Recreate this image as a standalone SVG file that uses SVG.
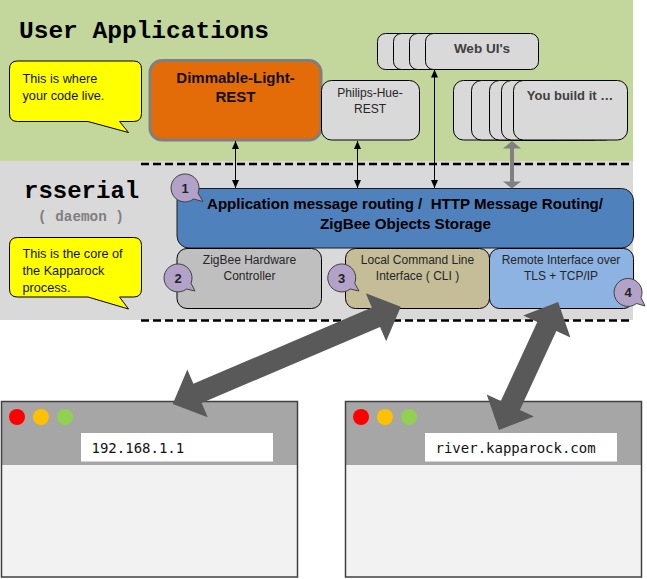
<svg xmlns="http://www.w3.org/2000/svg" width="647" height="579" viewBox="0 0 647 579">
<defs>
<marker id="ah" markerUnits="userSpaceOnUse" markerWidth="8" markerHeight="7" refX="8" refY="3.5" orient="auto-start-reverse"><path d="M0,0 L8,3.5 L0,7 Z" fill="#000"/></marker>
</defs>
<style>
.sans{font-family:"Liberation Sans",Arial,sans-serif}
.mono{font-family:"Liberation Mono","DejaVu Sans Mono",monospace}
.call{fill:#FFFF00;stroke:#000;stroke-width:1}
.calltxt{font-family:"Liberation Sans",Arial,sans-serif;font-size:12.7px;fill:#111}
.stack{fill:#D9D9D9;stroke:#000;stroke-width:1}
.lbl{font-family:"Liberation Sans",Arial,sans-serif;font-size:12px;fill:#262626;text-anchor:middle}
.bub{fill:#B3A2C7;stroke:#404040;stroke-width:1}
.num{font-family:"Liberation Sans",Arial,sans-serif;font-size:13px;font-weight:bold;fill:#222;text-anchor:middle}
.dash{stroke:#000;stroke-width:2.5;stroke-dasharray:8,4;fill:none}
.thin{stroke:#000;stroke-width:1;fill:none}
.big{fill:#595959}
.bar{fill:#A6A6A6}
.body{fill:#F2F2F2}
.frame{fill:none;stroke:#404040;stroke-width:1.5}
.url{font-family:"DejaVu Sans Mono","Liberation Mono",monospace;font-size:14px;fill:#111}
</style>

<g id="backgrounds">
<rect x="0" y="0" width="633" height="161" fill="#C3D69B"/>
<rect x="0" y="161" width="633" height="159" fill="#D9D9D9"/>
<line class="dash" x1="141" y1="164" x2="633" y2="164"/>
<line class="dash" x1="141" y1="320.5" x2="633" y2="320.5"/>
</g>

<g id="title-user-apps">
<text class="mono" x="19" y="38" font-size="24.5" font-weight="bold" fill="#000">User Applications</text>
</g>
<g id="title-rsserial">
<text class="mono" x="24" y="198" font-size="24" font-weight="bold" fill="#000">rsserial</text>
<text class="mono" x="81" y="221" font-size="14.3" font-weight="bold" fill="#7F7F7F" text-anchor="middle">( daemon )</text>
</g>

<g id="callout-code">
<path class="call" d="M17.5,61 H133.5 Q141.5,61 141.5,69 V113.5 Q141.5,121.5 133.5,121.5 H119.5 L128.5,132.5 L88,121.5 H17.5 Q9.5,121.5 9.5,113.5 V69 Q9.5,61 17.5,61 Z"/>
<text class="calltxt" x="22.5" y="83">This is where</text>
<text class="calltxt" x="22.5" y="100">your code live.</text>
</g>
<g id="callout-core">
<path class="call" d="M17.5,237.5 H133.5 Q141.5,237.5 141.5,245.5 V289 Q141.5,297 133.5,297 H119.5 L128.5,309 L88,297 H17.5 Q9.5,297 9.5,289 V245.5 Q9.5,237.5 17.5,237.5 Z"/>
<text class="calltxt" x="22.5" y="258">This is the core of</text>
<text class="calltxt" x="22.5" y="275">the Kapparock</text>
<text class="calltxt" x="22.5" y="292">process.</text>
</g>

<g id="dimmable-light-rest">
<rect x="150" y="60.5" width="171" height="79.5" rx="12" fill="#E36C09" stroke="#7F7F7F" stroke-width="3"/>
<text class="sans" x="235.5" y="82.5" font-size="15" font-weight="bold" fill="#111" text-anchor="middle">Dimmable-Light-</text>
<text class="sans" x="235.5" y="101.5" font-size="15" font-weight="bold" fill="#111" text-anchor="middle">REST</text>
</g>

<g id="philips-hue-rest">
<rect class="stack" x="321.5" y="80.5" width="98" height="59.5" rx="10"/>
<text class="lbl" x="370" y="97">Philips-Hue-</text>
<text class="lbl" x="370" y="113">REST</text>
</g>

<g id="web-uis">
<rect class="stack" x="377.5" y="33.5" width="113" height="36" rx="8"/>
<rect class="stack" x="393.5" y="33.5" width="113" height="36" rx="8"/>
<rect class="stack" x="409.5" y="33.5" width="113" height="36" rx="8"/>
<rect class="stack" x="425.5" y="33.5" width="113" height="36" rx="8"/>
<text class="sans" x="482" y="53" font-size="13.5" font-weight="bold" fill="#404040" text-anchor="middle">Web UI's</text>
</g>

<g id="you-build-it">
<rect class="stack" x="453.5" y="80.5" width="114" height="59.5" rx="10"/>
<rect class="stack" x="471.5" y="80.5" width="114" height="59.5" rx="10"/>
<rect class="stack" x="489.5" y="80.5" width="114" height="59.5" rx="10"/>
<rect class="stack" x="501.5" y="80.5" width="114" height="59.5" rx="10"/>
<rect class="stack" x="513.5" y="80.5" width="114" height="59.5" rx="10"/>
<text class="sans" x="570" y="99.5" font-size="13" font-weight="bold" fill="#404040" text-anchor="middle">You build it …</text>
</g>

<g id="message-routing">
<rect x="177" y="188.5" width="456.5" height="59.5" rx="12" fill="#4F81BD" stroke="#1a1a1a" stroke-width="1"/>
<text class="sans" x="405" y="208.5" font-size="15" font-weight="bold" fill="#000" text-anchor="middle" textLength="396" lengthAdjust="spacingAndGlyphs">Application message routing /&#160; HTTP Message Routing/</text>
<text class="sans" x="405.5" y="228.5" font-size="15" font-weight="bold" fill="#000" text-anchor="middle" textLength="171" lengthAdjust="spacingAndGlyphs">ZigBee Objects Storage</text>
</g>

<g id="zigbee-hw">
<rect x="177" y="248.5" width="144.5" height="60" rx="10" fill="#BFBFBF" stroke="#000" stroke-width="1"/>
<text class="lbl" x="249.5" y="264">ZigBee Hardware</text>
<text class="lbl" x="249.5" y="280">Controller</text>
</g>

<g id="local-cli">
<rect x="345.5" y="248.5" width="144" height="60" rx="10" fill="#C4BD97" stroke="#000" stroke-width="1"/>
<text class="lbl" x="417.5" y="264">Local Command Line</text>
<text class="lbl" x="417.5" y="280">Interface ( CLI )</text>
</g>

<g id="remote-interface">
<rect x="489.5" y="248.5" width="144" height="60" rx="10" fill="#8DB3E2" stroke="#000" stroke-width="1"/>
<text class="lbl" x="561" y="264">Remote Interface over</text>
<text class="lbl" x="561" y="280">TLS + TCP/IP</text>
</g>

<g id="bubble-1">
<path class="bub" d="M198,193.2 L203,201.5 L193.6,199 A14,14 0 1 1 198,193.2 Z"/>
<text class="num" x="185" y="192.5">1</text>
</g>
<g id="bubble-2">
<path class="bub" d="M191,283.2 L195,291 L186.6,289 A14,14 0 1 1 191,283.2 Z"/>
<text class="num" x="178" y="282.5">2</text>
</g>
<g id="bubble-3">
<path class="bub" d="M354.7,283.2 L359,291 L350.3,289 A14,14 0 1 1 354.7,283.2 Z"/>
<text class="num" x="341.7" y="282.5">3</text>
</g>
<g id="bubble-4">
<path class="bub" d="M641,297.7 L645,306 L636.6,303.5 A14,14 0 1 1 641,297.7 Z"/>
<text class="num" x="628" y="297">4</text>
</g>

<g id="browser-local">
<rect class="bar" x="1.5" y="401.5" width="296" height="63.5"/>
<rect class="body" x="1.5" y="465" width="296" height="112"/>
<rect class="frame" x="1.5" y="401.5" width="296" height="175.5"/>
<circle cx="17" cy="417" r="8" fill="#FF0000"/>
<circle cx="41" cy="417" r="8" fill="#FFC000"/>
<circle cx="65" cy="417" r="8" fill="#92D050"/>
<rect x="81" y="433" width="192" height="28.5" fill="#FFFFFF"/>
<text class="url" x="91.5" y="452.5">192.168.1.1</text>
</g>

<g id="browser-remote">
<rect class="bar" x="345.5" y="401.5" width="296" height="63.5"/>
<rect class="body" x="345.5" y="465" width="296" height="112"/>
<rect class="frame" x="345.5" y="401.5" width="296" height="175.5"/>
<circle cx="361" cy="417" r="8" fill="#FF0000"/>
<circle cx="385" cy="417" r="8" fill="#FFC000"/>
<circle cx="409" cy="417" r="8" fill="#92D050"/>
<rect x="425" y="433" width="192" height="28.5" fill="#FFFFFF"/>
<text class="url" x="435.5" y="452.5">river.kapparock.com</text>
</g>

<g id="connectors">
<line class="thin" x1="235.5" y1="141" x2="235.5" y2="188" marker-start="url(#ah)" marker-end="url(#ah)"/>
<line class="thin" x1="357.5" y1="141" x2="357.5" y2="188" marker-start="url(#ah)" marker-end="url(#ah)"/>
<line class="thin" x1="434.5" y1="69.5" x2="434.5" y2="188" marker-start="url(#ah)" marker-end="url(#ah)"/>
<polygon fill="#808080" points="512,141 521,148.5 514,148.5 514,181.5 521,181.5 512,188.5 503,181.5 510,181.5 510,148.5 503,148.5"/>
<polygon class="big" transform="translate(172.7,404) rotate(-23.11)" points="0,0 27,-26 27,-10.5 221,-10.5 221,-26 248,0 221,26 221,10.5 27,10.5 27,26"/>
<polygon class="big" transform="translate(499,430) rotate(-65.2)" points="0,0 27,-26 27,-10.5 114,-10.5 114,-26 141,0 114,26 114,10.5 27,10.5 27,26"/>
</g>
</svg>
